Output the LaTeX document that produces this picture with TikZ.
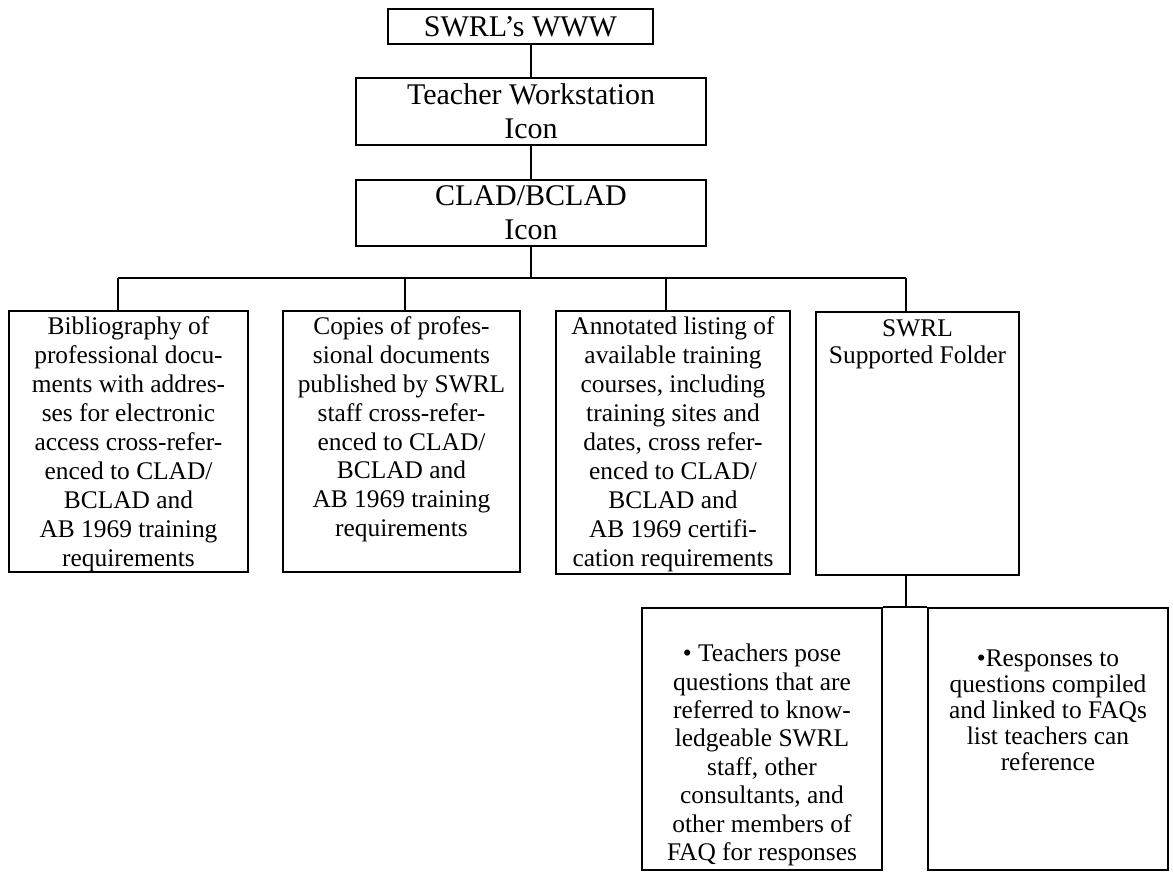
\documentclass[tikz,border=0pt]{standalone}
\usepackage{fontspec}
\setmainfont{Liberation Serif}
\usepackage{tikz}
\newcommand{\cell}[5][3pt]{\parbox[c][#3][t]{#2}{\centering\fontsize{12.7}{#4}\selectfont\vspace*{#1}#5\par}}

\begin{document}
\begin{tikzpicture}[x=0.5pt,y=-0.5pt,line width=1pt,
    head/.style={draw,align=center,inner sep=0pt,font=\fontsize{15}{17}\selectfont},
    leaf/.style={draw,inner sep=0pt}]
    \useasboundingbox (0,0) rectangle (1173,872);
    \node[head,minimum width=132.5pt,minimum height=17.5pt] (www) at (520.5,26.5) {SWRL's WWW};
    \node[head,minimum width=175pt,minimum height=33.5pt] (tws) at (531,111.5) {Teacher Workstation\\Icon};
    \node[head,minimum width=175pt,minimum height=33pt] (clad) at (531,213) {CLAD/BCLAD\\Icon};
    \node[leaf] (bib) at (128.5,441.5) {\cell{119.5pt}{130.5pt}{14.5pt}{Bibliography of\\professional docu-\\ments with addres-\\ses for electronic\\access cross-refer-\\enced to CLAD/\\BCLAD and\\AB 1969 training\\requirements}};
    \node[leaf] (copies) at (401.5,441.5) {\cell{118.5pt}{130.5pt}{14.4pt}{Copies of profes-\\sional documents\\published by SWRL\\staff cross-refer-\\enced to CLAD/\\BCLAD and\\AB 1969 training\\requirements}};
    \node[leaf] (courses) at (673,442.5) {\cell{117pt}{131.5pt}{14.5pt}{Annotated listing of\\available training\\courses, including\\training sites and\\dates, cross refer-\\enced to CLAD/\\BCLAD and\\AB 1969 certifi-\\cation requirements}};
    \node[leaf] (fold) at (917.5,443.5) {\cell[4pt]{101.5pt}{131.5pt}{13.4pt}{SWRL\\Supported Folder}};
    \node[leaf] (ask) at (762,739) {\cell[18pt]{120pt}{131pt}{14.2pt}{• Teachers pose\\questions that are\\referred to know-\\ledgeable SWRL\\staff, other\\consultants, and\\other members of\\FAQ for responses}};
    \node[leaf] (reply) at (1048,739) {\cell[21pt]{120pt}{131pt}{13pt}{•Responses to\\questions compiled\\and linked to FAQs\\list teachers can\\reference}};
    \coordinate (d1) at (118,278);
    \coordinate (d2) at (405,278);
    \coordinate (d3) at (666,278);
    \coordinate (d4) at (906,278);
    \coordinate (d5) at (906,608);
    \draw (tws.north) -- (www.south -| tws.north);
    \draw (clad.north) -- (tws.south);
    \draw (clad.south) -- (clad.south |- d1);
    \draw (d1) -- (d4);
    \draw (d1) -- (d1 |- bib.north);
    \draw (d2) -- (d2 |- copies.north);
    \draw (d3) -- (d3 |- courses.north);
    \draw (d4) -- (d4 |- fold.north);
    \draw (d5 |- fold.south) -- (d5);
    \draw (ask.north east) -- (reply.north west);
  \end{tikzpicture}
\end{document}
